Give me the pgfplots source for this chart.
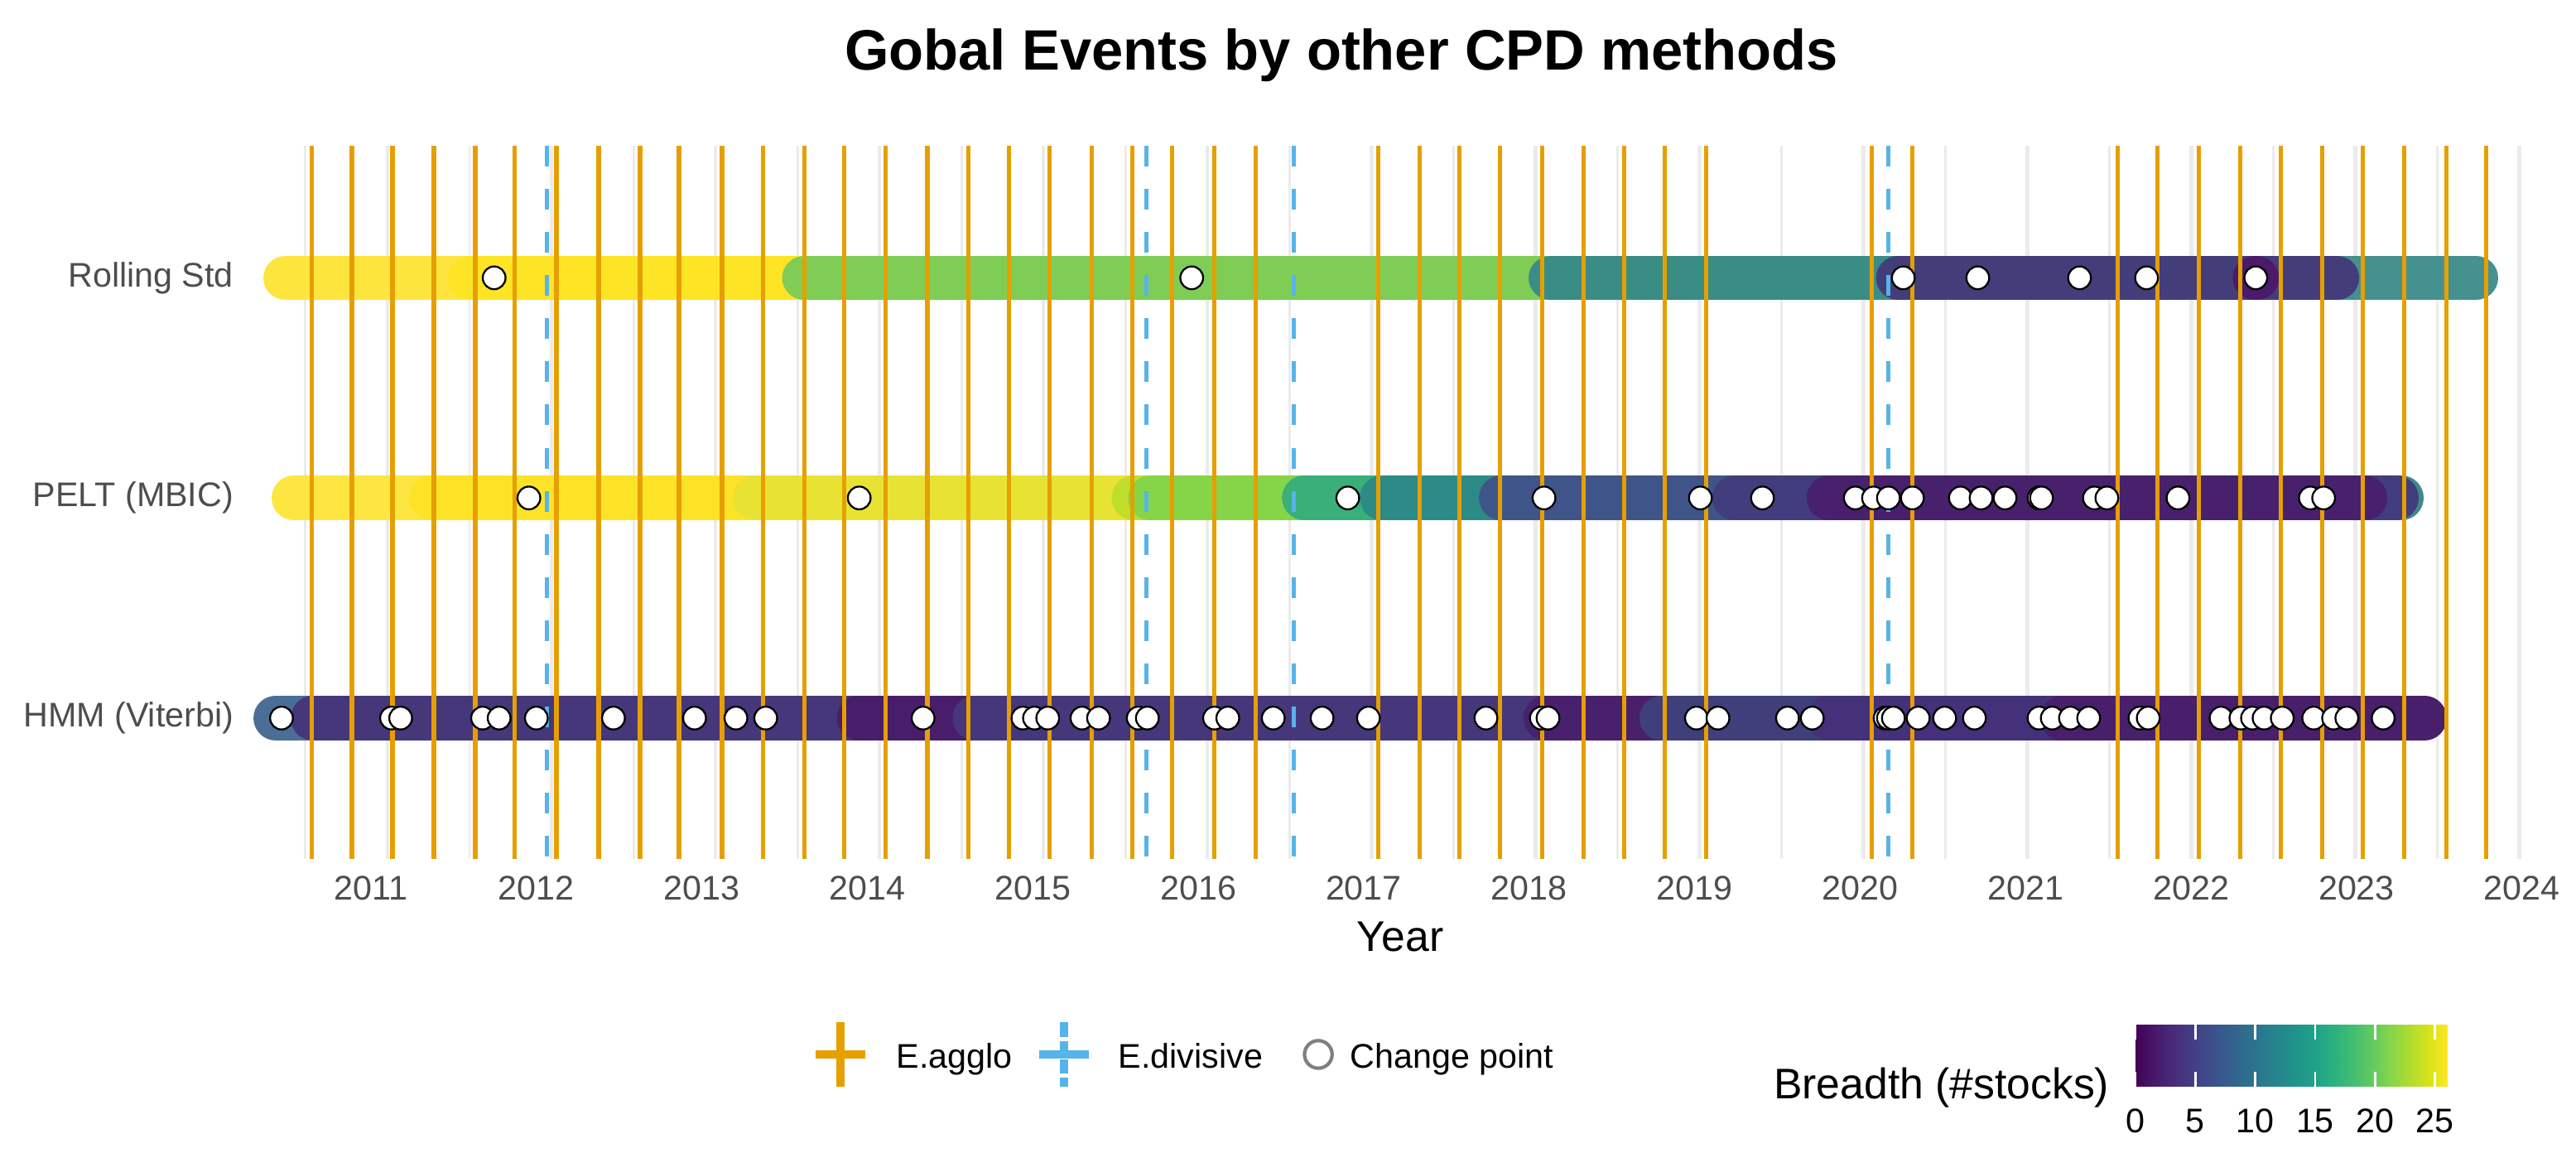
\documentclass[border=0pt]{standalone}
\usepackage{fontspec}
\setmainfont{Liberation Sans}
\usepackage{pgfplots}
\pgfplotsset{compat=1.18}

\definecolor{agglo}{HTML}{E69F00}
\definecolor{divis}{HTML}{56B4E9}
\definecolor{gridc}{HTML}{EBEBEB}
\definecolor{ticktxt}{HTML}{4D4D4D}

% one breadth segment: y, x start, x end, colour
\newcommand{\seg}[4]{\addplot[line width=12.9pt, line cap=round, draw=#4, forget plot] coordinates {(#2,#1) (#3,#1)};}

\begin{document}
\begin{tikzpicture}[x=1pt,y=1pt]
\useasboundingbox (0,0) rectangle (746.64,334.08);

\begin{axis}[
  at={(70.08pt,85.2pt)}, anchor=south west,
  width=671.52pt, height=206.64pt, scale only axis,
  xmin=2010.22, xmax=2024.22, ymin=0.36, ymax=3.6,
  axis line style={draw=none}, major tick length=0pt,
  xtick={2011,...,2024}, ytick={1,2,3},
  yticklabels={HMM (Viterbi), PELT (MBIC), Rolling Std},
  /pgf/number format/1000 sep={}, /pgf/number format/assume math mode=true,
  ticklabel style={font=\fontsize{9.9}{11}\selectfont, text=ticktxt, inner sep=0pt},
  xticklabel style={anchor=north, yshift=-4.8pt},
  yticklabel style={anchor=east, xshift=-2.2pt},
  xlabel={Year},
  xlabel style={font=\fontsize{12.4}{14}\selectfont, at={(axis description cs:0.5,0)}, anchor=north, yshift=-18pt, inner sep=0pt},
]
% grid (minor, then major)
\pgfplotsinvokeforeach{2010.605,2011.596,2012.587,2013.578,2014.569,2015.560,2016.551,2017.542,2018.533,2019.524,2020.514,2021.505,2022.496,2023.487}{
  \addplot[gridc, line width=0.7pt, forget plot] coordinates {(#1,3.6) (#1,0.36)};}
\pgfplotsinvokeforeach{2011.100,2012.091,2013.082,2014.073,2015.064,2016.055,2017.046,2018.037,2019.028,2020.019,2021.010,2022.001,2022.992,2023.982}{
  \addplot[gridc, line width=1.1pt, forget plot] coordinates {(#1,3.6) (#1,0.36)};}

% Rolling Std
\seg{3}{2010.485}{2011.65}{{rgb,255:red,253;green,229;blue,62}}
\seg{3}{2011.60}{2013.65}{{rgb,255:red,253;green,228;blue,37}}
\seg{3}{2013.62}{2018.15}{{rgb,255:red,127;green,205;blue,85}}
\seg{3}{2018.13}{2020.30}{{rgb,255:red,58;green,141;blue,133}}
\seg{3}{2022.80}{2023.72}{{rgb,255:red,69;green,145;blue,143}}
\seg{3}{2020.23}{2022.88}{{rgb,255:red,67;green,62;blue,122}}
\seg{3}{2022.385}{2022.395}{{rgb,255:red,74;green,26;blue,107}}

% PELT (MBIC)
\seg{2}{2010.535}{2011.40}{{rgb,255:red,253;green,230;blue,66}}
\seg{2}{2011.365}{2013.35}{{rgb,255:red,253;green,227;blue,38}}
\seg{2}{2013.32}{2015.65}{{rgb,255:red,232;green,227;blue,51}}
\seg{2}{2015.61}{2015.75}{{rgb,255:red,191;green,222;blue,43}}
\seg{2}{2015.71}{2016.68}{{rgb,255:red,134;green,213;blue,73}}
\seg{2}{2016.64}{2017.15}{{rgb,255:red,59;green,175;blue,122}}
\seg{2}{2017.11}{2017.87}{{rgb,255:red,45;green,139;blue,135}}
\seg{2}{2017.83}{2019.28}{{rgb,255:red,63;green,85;blue,137}}
\seg{2}{2020.00}{2023.27}{{rgb,255:red,60;green,138;blue,138}}
\seg{2}{2019.24}{2023.24}{{rgb,255:red,66;green,61;blue,124}}
\seg{2}{2019.81}{2023.05}{{rgb,255:red,71;green,33;blue,108}}

% HMM (Viterbi)
\seg{1}{2010.425}{2010.75}{{rgb,255:red,74;green,110;blue,150}}
\seg{1}{2010.65}{2014.00}{{rgb,255:red,69;green,55;blue,121}}
\seg{1}{2013.95}{2014.70}{{rgb,255:red,72;green,30;blue,107}}
\seg{1}{2014.65}{2018.15}{{rgb,255:red,69;green,55;blue,122}}
\seg{1}{2018.10}{2018.95}{{rgb,255:red,72;green,32;blue,107}}
\seg{1}{2018.80}{2019.85}{{rgb,255:red,63;green,63;blue,124}}
\seg{1}{2019.81}{2021.25}{{rgb,255:red,69;green,48;blue,122}}
\seg{1}{2021.22}{2023.41}{{rgb,255:red,72;green,31;blue,107}}

% change points
\pgfplotsset{cp/.style={only marks, mark=*, mark size=3.3pt, mark options={fill=white, draw=black, line width=0.55pt}, forget plot}}
\addplot[cp] coordinates {(2011.745,3) (2015.96,3) (2020.26,3) (2020.71,3) (2021.325,3) (2021.73,3) (2022.39,3)};
\addplot[cp] coordinates {(2011.955,2) (2013.951,2) (2016.903,2) (2018.089,2) (2019.034,2) (2019.409,2)
  (2019.97,2) (2020.08,2) (2020.17,2) (2020.315,2) (2020.605,2) (2020.73,2) (2020.875,2) (2021.08,2)
  (2021.095,2) (2021.415,2) (2021.49,2) (2021.92,2) (2022.72,2) (2022.80,2)};
\addplot[cp] coordinates {(2010.46,1) (2011.125,1) (2011.18,1) (2011.675,1) (2011.775,1) (2012.0,1)
  (2012.466,1) (2012.956,1) (2013.206,1) (2013.386,1) (2014.337,1) (2014.94,1) (2015.01,1) (2015.09,1)
  (2015.297,1) (2015.397,1) (2015.637,1) (2015.692,1) (2016.098,1) (2016.178,1) (2016.453,1) (2016.748,1)
  (2017.028,1) (2017.738,1) (2018.073,1) (2018.113,1) (2019.01,1) (2019.14,1) (2019.56,1) (2019.71,1)
  (2020.15,1) (2020.17,1) (2020.2,1) (2020.35,1) (2020.51,1) (2020.69,1) (2021.08,1) (2021.16,1)
  (2021.27,1) (2021.38,1) (2021.69,1) (2021.74,1) (2022.18,1) (2022.30,1) (2022.37,1) (2022.44,1)
  (2022.55,1) (2022.74,1) (2022.86,1) (2022.94,1) (2023.16,1)};

% E.agglo events
\pgfplotsinvokeforeach{2010.642,2010.885,2011.130,2011.380,2011.630,2011.870,2012.121,2012.376,2012.626,
  2012.861,2013.121,2013.371,2013.621,2013.861,2014.111,2014.362,2014.612,2014.857,2015.102,2015.357,
  2015.602,2015.842,2016.098,2016.348,2017.088,2017.338,2017.578,2017.823,2018.078,2018.329,2018.574,
  2018.819,2019.069,2020.069,2020.315,2021.555,2021.795,2022.046,2022.296,2022.541,2022.791,2023.036,
  2023.286,2023.541,2023.781}{
  \addplot[agglo, line width=1.3pt, forget plot] coordinates {(#1,3.6) (#1,0.36)};}
% E.divisive events
\pgfplotsinvokeforeach{2012.064,2015.685,2016.578,2020.170}{
  \addplot[divis, line width=1.2pt, dash pattern=on 6pt off 6.5pt, forget plot] coordinates {(#1,3.6) (#1,0.36)};}
\end{axis}

% title
\node[anchor=base, inner sep=0pt, font=\bfseries\fontsize{16.5}{19}\selectfont] at (388.8,313.9) {Gobal Events by other CPD methods};

% legend
\draw[agglo, line width=2.2pt] (243.6,19.3) -- (243.6,37.8);
\draw[agglo, line width=2.2pt] (236.3,28.56) -- (250.9,28.56);
\node[anchor=base west, inner sep=0pt, font=\fontsize{9.9}{11}\selectfont] at (259.7,24.48) {E.agglo};
\draw[divis, line width=2.2pt, dash pattern=on 4.2pt off 1.1pt] (308.4,37.8) -- (308.4,19.3);
\draw[divis, line width=2.2pt] (301.1,28.56) -- (315.7,28.56);
\node[anchor=base west, inner sep=0pt, font=\fontsize{9.9}{11}\selectfont] at (324.0,24.48) {E.divisive};
\draw[draw={rgb,255:red,127;green,127;blue,127}, fill=white, line width=1pt] (382.1,28.56) circle (4.0);
\node[anchor=base west, inner sep=0pt, font=\fontsize{9.9}{11}\selectfont] at (391.2,24.48) {Change point};

% colour bar
\node[anchor=base east, inner sep=0pt, font=\fontsize{12.4}{14}\selectfont] at (611.5,15.6) {Breadth (\#stocks)};
\begin{axis}[
  at={(618.96pt,19.2pt)}, anchor=south west,
  width=90.24pt, height=18pt, scale only axis,
  xmin=0, xmax=26, ymin=0, ymax=1,
  axis line style={draw=none}, axis on top,
  ytick=\empty, xtick={0,5,...,25},
  xtick pos=both, xticklabel pos=left, xtick align=inside,
  major tick length=4.3pt, tick style={white, line width=0.6pt},
  /pgf/number format/assume math mode=true,
  xticklabel style={font=\fontsize{9.9}{11}\selectfont, anchor=north, inner sep=0pt, yshift=-6.2pt},
  colormap/viridis, point meta min=0, point meta max=26,
]
\addplot[surf, shader=interp, point meta=x, mesh/rows=2] coordinates {
  (0,0) (6.5,0) (13,0) (19.5,0) (26,0)
  (0,1) (6.5,1) (13,1) (19.5,1) (26,1)};
\end{axis}
\end{tikzpicture}
\end{document}
